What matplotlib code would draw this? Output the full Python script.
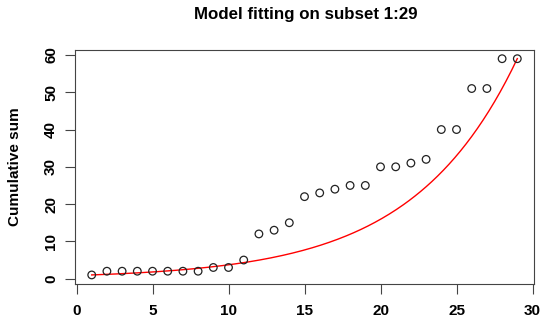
import numpy as np
import matplotlib
matplotlib.use("Agg")
import matplotlib.pyplot as plt

plt.rcParams["font.family"] = ["Liberation Sans", "DejaVu Sans"]

# observed cumulative sums
days = np.arange(1, 30)
cum_sum = [1, 2, 2, 2, 2, 2, 2, 2, 3, 3, 5, 12, 13, 15, 22, 23, 24, 25, 25,
           30, 30, 31, 32, 40, 40, 51, 51, 59, 59]

# exponential model y = a * exp(b * x), parameters
fit_a = 0.868
fit_b = 0.1455

x_ticks = [0, 5, 10, 15, 20, 25, 30]
y_ticks = [0, 10, 20, 30, 40, 50, 60]

fig = plt.figure(figsize=(5.5, 3.25), dpi=100)
ax = fig.add_axes([0.1358, 0.1274, 0.8357, 0.7186])

ax.scatter(days, cum_sum, s=30, facecolors="none", edgecolors="#222222",
           linewidths=0.9, zorder=3)
xs = np.linspace(days[0], days[-1], 300)
ax.plot(xs, fit_a * np.exp(fit_b * xs), color="red", linewidth=1.0, zorder=2)

ax.set_xlim(-0.12, 30.12)
ax.set_ylim(-1.32, 61.32)
ax.set_xticks(x_ticks)
ax.set_yticks(y_ticks)
ax.tick_params(direction="out", length=7, width=0.8, labelsize=11,
               color="#444444")
for lbl in ax.get_xticklabels():
    lbl.set_fontweight("bold")
for lbl in ax.get_yticklabels():
    lbl.set_fontweight("bold")
    lbl.set_rotation(90)
    lbl.set_va("center")
ax.tick_params(axis="x", pad=8)
ax.tick_params(axis="y", pad=5)
for s in ax.spines.values():
    s.set_color("#444444")
    s.set_linewidth(0.8)

fig.text(15 / 550, 1 - 166.5 / 325, "Cumulative sum", rotation=90,
         ha="center", va="center", fontsize=11, fontweight="bold")
fig.text(0.555, 1 - 15 / 325, "Model fitting on subset 1:29", ha="center",
         va="center", fontsize=12.2, fontweight="bold")

fig.savefig("out.png", dpi=100)
